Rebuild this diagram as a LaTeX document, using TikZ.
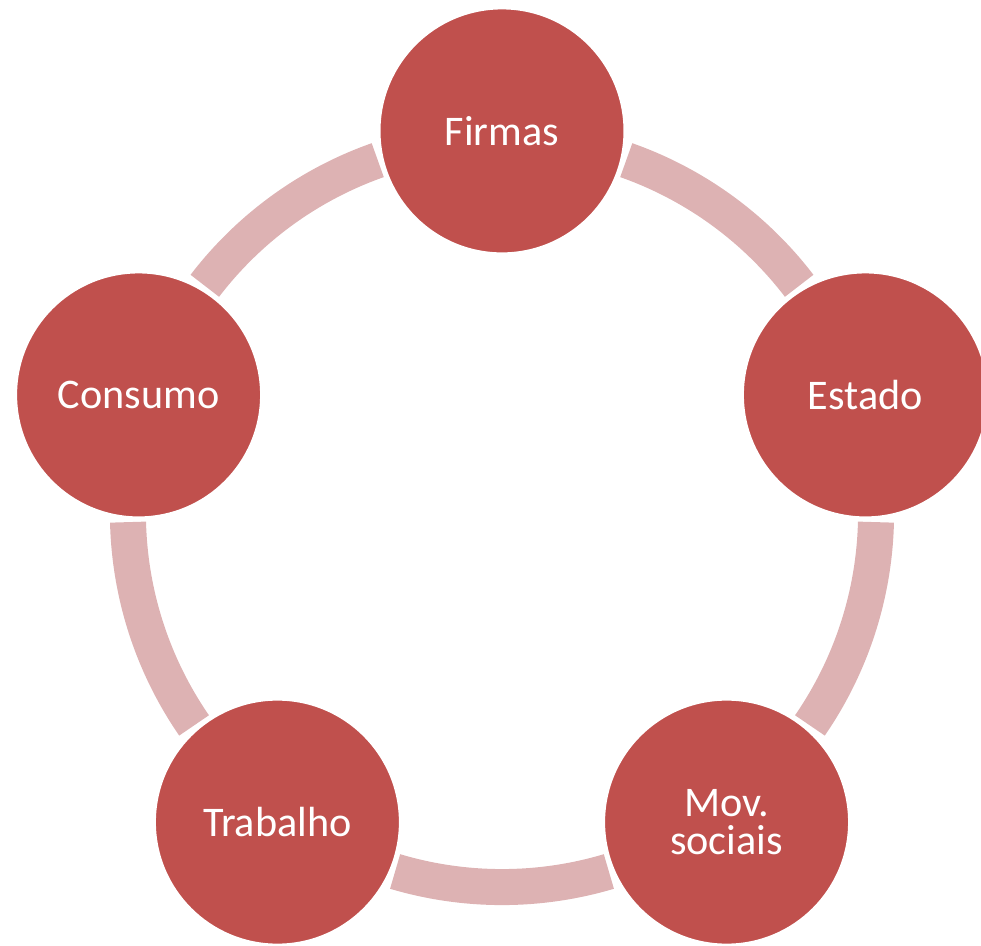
\documentclass[tikz,border=0pt]{standalone}
\usepackage{fontspec}
\setmainfont{Carlito}
\usetikzlibrary{backgrounds}
\definecolor{hubred}{HTML}{C0504D}
\definecolor{ringpink}{HTML}{DDB2B3}

\begin{document}
\begin{tikzpicture}[
  x=0.025cm, y=0.025cm,
  font=\fontsize{30}{27.5}\selectfont,
  hub/.style={circle, fill=hubred, draw=white, line width=2.2pt, minimum size=6.15cm, inner sep=0pt, text=white, align=center},
  ring/.style={draw=ringpink, line width=0.9cm}
]
\useasboundingbox (-502,-433) rectangle (479,513);

\node[hub] (firmas) at (90:9.55cm) {Firmas};
\node[hub] (estado) at (18:9.55cm) {Estado};
\node[hub] (mov) at (-54:9.55cm) {Mov.\\sociais};
\node[hub] (trabalho) at (-126:9.55cm) {Trabalho};
\node[hub] (consumo) at (162:9.55cm) {Consumo};

\begin{scope}[on background layer]
  \foreach \a in {90,18,-54,-126,-198} {
    \draw[ring] (\a-19.4:9.35cm) arc[start angle=\a-19.4, end angle=\a-52.6, radius=9.35cm];
  }
\end{scope}

\end{tikzpicture}
\end{document}
